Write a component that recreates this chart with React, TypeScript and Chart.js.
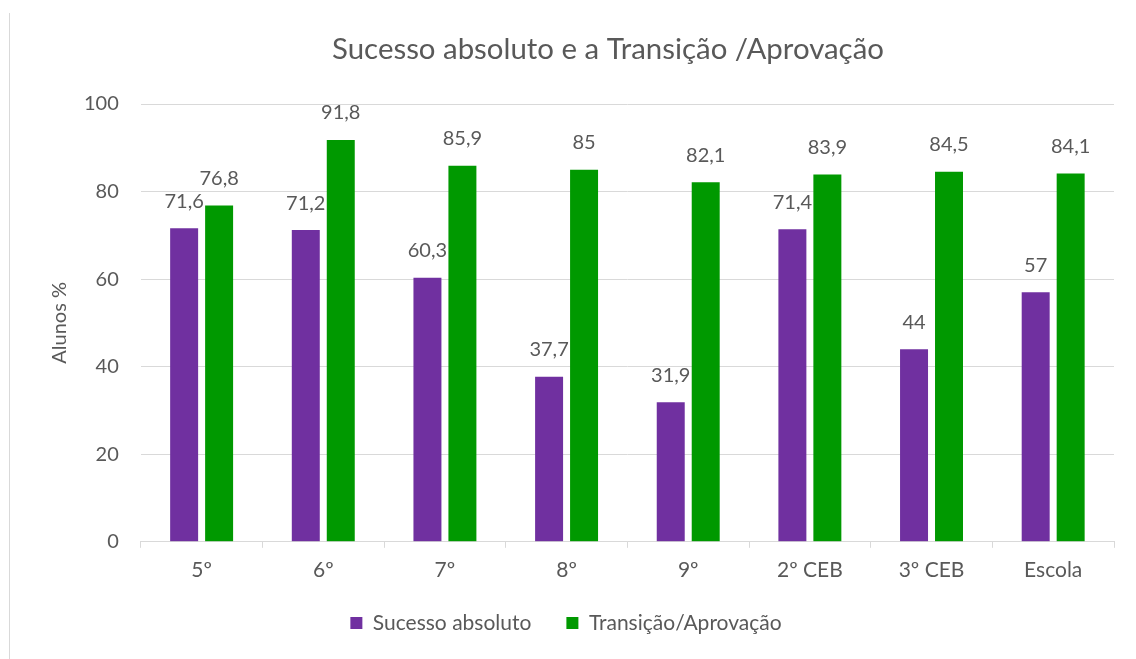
import React, { useEffect, useRef } from "react";
import { Chart, registerables } from "chart.js";

Chart.register(...registerables);

const categories = ["5º", "6º", "7º", "8º", "9º", "2º CEB", "3º CEB", "Escola"];
const sucessoAbsoluto = [71.6, 71.2, 60.3, 37.7, 31.9, 71.4, 44, 57];
const transicaoAprovacao = [76.8, 91.8, 85.9, 85, 82.1, 83.9, 84.5, 84.1];
const yTicks = [0, 20, 40, 60, 80, 100];
const chartTitle = "Sucesso absoluto e a Transição /Aprovação";

const FONT = "Lato";
const TEXT = "#595959";
const GRID = "#d9d9d9";

const valueLabels = {
  id: "valueLabels",
  afterDatasetsDraw(chart: any) {
    const ctx = chart.ctx;
    ctx.save();
    ctx.fillStyle = TEXT;
    ctx.font = `20px ${FONT}`;
    ctx.textAlign = "center";
    ctx.textBaseline = "middle";
    chart.data.datasets.forEach((ds: any, di: number) => {
      const meta = chart.getDatasetMeta(di);
      meta.data.forEach((bar: any, i: number) => {
        const v = ds.data[i];
        const txt = String(v).replace(".", ",");
        ctx.fillText(txt, bar.x, bar.y - 27);
      });
    });
    ctx.restore();
  },
};

const offsetTitle = {
  id: "offsetTitle",
  afterDraw(chart: any) {
    const ctx = chart.ctx;
    ctx.save();
    ctx.fillStyle = TEXT;
    ctx.font = `29.4px ${FONT}`;
    ctx.textAlign = "center";
    ctx.textBaseline = "middle";
    ctx.fillText(chartTitle, 608, 50);
    ctx.restore();
  },
};

const legendShift = {
  id: "legendShift",
  afterLayout(chart: any) {
    const lg = chart.legend;
    if (!lg) return;
    lg.left -= 13;
    lg.right -= 13;
    lg.top -= 15.5;
    lg.bottom -= 15.5;
  },
};

export default function App() {
  const ref = useRef<HTMLCanvasElement>(null);
  useEffect(() => {
    document.body.style.margin = "0";
    const chart = new Chart(ref.current!, {
      type: "bar",
      data: {
        labels: categories,
        datasets: [
          {
            label: "Sucesso absoluto",
            data: sucessoAbsoluto,
            backgroundColor: "#7030a0",
            categoryPercentage: 0.575,
            barPercentage: 0.8,
          },
          {
            label: "Transição/Aprovação",
            data: transicaoAprovacao,
            backgroundColor: "#009900",
            categoryPercentage: 0.575,
            barPercentage: 0.8,
          },
        ],
      },
      options: {
        responsive: false,
        animation: false,
        devicePixelRatio: 1,
        layout: { padding: { left: 44, right: 22, top: 104, bottom: 0 } },
        plugins: {
          title: { display: false },
          legend: {
            position: "bottom",
            labels: {
              color: TEXT,
              font: { family: FONT, size: 21 },
              boxWidth: 12,
              boxHeight: 12,
              padding: 35,
            },
          },
          tooltip: { enabled: false },
        },
        scales: {
          x: {
            grid: {
              drawOnChartArea: false,
              drawTicks: true,
              tickLength: 6,
              color: GRID,
            },
            border: { color: GRID },
            ticks: {
              color: TEXT,
              font: { family: FONT, size: 21 },
              padding: 10,
            },
          },
          y: {
            min: 0,
            max: 100,
            afterBuildTicks: (axis: any) => {
              axis.ticks = yTicks.map((v) => ({ value: v }));
            },
            grid: { color: GRID, drawTicks: false },
            border: { display: false },
            ticks: {
              color: TEXT,
              font: { family: FONT, size: 20 },
              padding: 22,
            },
            title: {
              display: true,
              text: "Alunos %",
              color: TEXT,
              font: { family: FONT, size: 20 },
              padding: { top: 4, bottom: -10 },
            },
          },
        },
      },
      plugins: [valueLabels, offsetTitle, legendShift],
    });
    return () => chart.destroy();
  }, []);
  return (
    <div style={{ position: "relative", width: 1136, height: 659, background: "#fff" }}>
      <div style={{ position: "absolute", left: 9, top: 13, width: 1, height: 646, background: GRID }} />
      <canvas ref={ref} width={1136} height={659} style={{ display: "block" }} />
    </div>
  );
}
